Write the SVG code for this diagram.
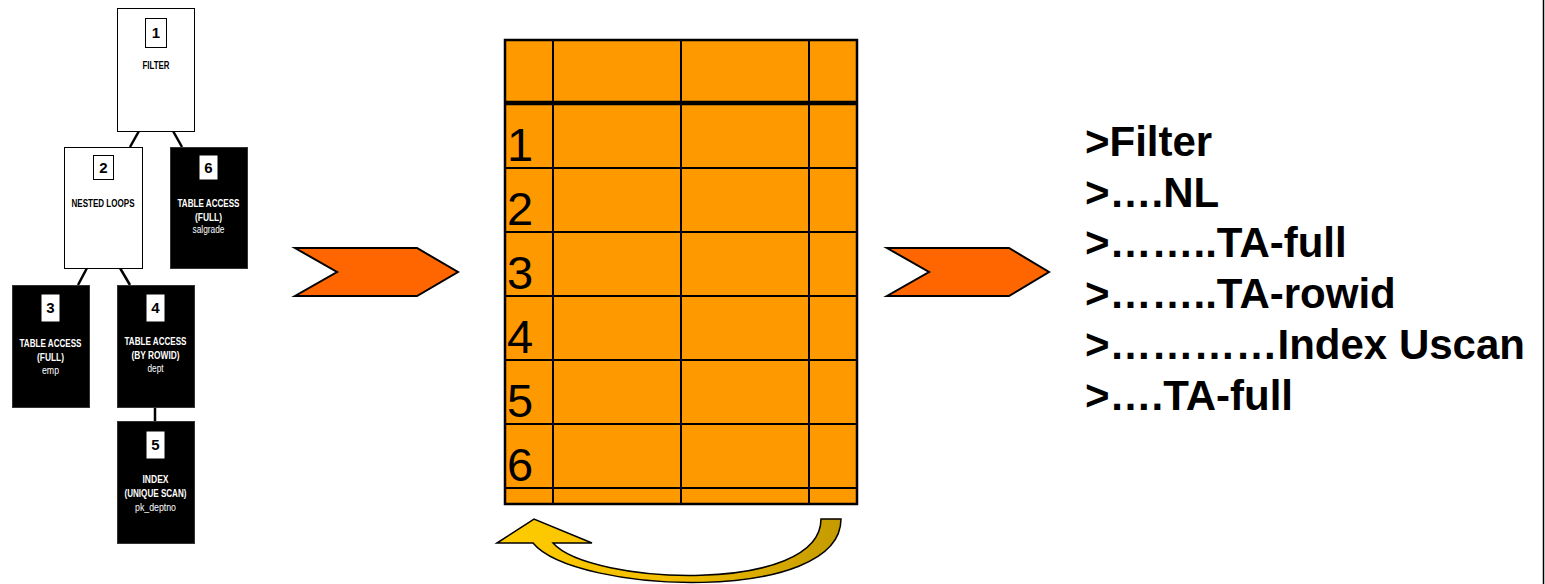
<svg xmlns="http://www.w3.org/2000/svg" width="1545" height="584" viewBox="0 0 1545 584">
<style>
.wn{fill:#fff;stroke:#000;stroke-width:1}
.bn{fill:#000;stroke:#333;stroke-width:1}
.nb{fill:#fff;stroke:#000;stroke-width:1}
.t{font-family:"Liberation Sans",Arial,sans-serif;font-weight:bold;font-size:10px;text-anchor:middle}
.d{font-family:"Liberation Sans",Arial,sans-serif;font-weight:bold;font-size:15px;text-anchor:middle;fill:#000}
.w{fill:#fff}
.k{fill:#000}
.edge{stroke:#000;stroke-width:2.5;fill:none}
.chev{fill:#FF6600;stroke:#000;stroke-width:2}
.grid{stroke:#000;stroke-width:2;fill:none}
.rn{font-family:"Liberation Sans",Arial,sans-serif;font-size:47px;fill:#000}
.pl{font-family:"Liberation Sans",Arial,sans-serif;font-weight:bold;font-size:42px;fill:#000}
</style>
<defs>
<linearGradient id="gold" x1="0" y1="0" x2="1" y2="0">
<stop offset="0" stop-color="#FFCC00"/>
<stop offset="0.5" stop-color="#F2BE00"/>
<stop offset="1" stop-color="#C49A00"/>
</linearGradient>
</defs>
<rect width="1545" height="584" fill="#fff"/>
<line x1="1543.5" y1="0" x2="1543.5" y2="584" stroke="#000" stroke-width="1.5"/>

<g id="connectors">
<line class="edge" x1="139" y1="131" x2="130" y2="147"/>
<line class="edge" x1="173" y1="131" x2="182" y2="147"/>
<line class="edge" x1="87" y1="268" x2="78" y2="285"/>
<line class="edge" x1="120" y1="268" x2="130" y2="285"/>
<line class="edge" x1="155" y1="407" x2="155" y2="421"/>
</g>

<g id="node1">
<rect class="wn" x="117.5" y="8.5" width="77" height="123"/>
<rect class="nb" x="145.5" y="18.5" width="21" height="29"/>
<text class="d" x="156" y="38">1</text>
<text class="t k" x="156" y="69" textLength="27" lengthAdjust="spacingAndGlyphs">FILTER</text>
</g>
<g id="node2">
<rect class="wn" x="64.5" y="147.5" width="78" height="121"/>
<rect class="nb" x="93.5" y="155.5" width="20" height="24"/>
<text class="d" x="103.5" y="173">2</text>
<text class="t k" x="103" y="207" textLength="63" lengthAdjust="spacingAndGlyphs">NESTED LOOPS</text>
</g>
<g id="node6">
<rect class="bn" x="170.5" y="147.5" width="77" height="121"/>
<rect class="nb" x="199" y="155" width="19" height="25"/>
<text class="d" x="208.5" y="173">6</text>
<text class="t w" x="208.5" y="207" textLength="62" lengthAdjust="spacingAndGlyphs">TABLE ACCESS</text>
<text class="t w" x="208.5" y="221" textLength="27" lengthAdjust="spacingAndGlyphs">(FULL)</text>
<text class="t w" x="208.5" y="233" textLength="32" lengthAdjust="spacingAndGlyphs" style="font-weight:normal">salgrade</text>
</g>
<g id="node3">
<rect class="bn" x="12.5" y="285.5" width="77" height="122"/>
<rect class="nb" x="41" y="294" width="19" height="28"/>
<text class="d" x="50.5" y="313">3</text>
<text class="t w" x="50.5" y="347" textLength="62" lengthAdjust="spacingAndGlyphs">TABLE ACCESS</text>
<text class="t w" x="50.5" y="361" textLength="27" lengthAdjust="spacingAndGlyphs">(FULL)</text>
<text class="t w" x="50.5" y="374" textLength="17" lengthAdjust="spacingAndGlyphs" style="font-weight:normal">emp</text>
</g>
<g id="node4">
<rect class="bn" x="117.5" y="285.5" width="77" height="122"/>
<rect class="nb" x="146" y="294" width="19" height="28"/>
<text class="d" x="155.5" y="313">4</text>
<text class="t w" x="155.5" y="345" textLength="62" lengthAdjust="spacingAndGlyphs">TABLE ACCESS</text>
<text class="t w" x="155.5" y="359" textLength="48" lengthAdjust="spacingAndGlyphs">(BY ROWID)</text>
<text class="t w" x="155.5" y="372" textLength="16" lengthAdjust="spacingAndGlyphs" style="font-weight:normal">dept</text>
</g>
<g id="node5">
<rect class="bn" x="117.5" y="421.5" width="77" height="122"/>
<rect class="nb" x="146" y="431" width="19" height="28"/>
<text class="d" x="155.5" y="450">5</text>
<text class="t w" x="155.5" y="483" textLength="26" lengthAdjust="spacingAndGlyphs">INDEX</text>
<text class="t w" x="155.5" y="497" textLength="62" lengthAdjust="spacingAndGlyphs">(UNIQUE SCAN)</text>
<text class="t w" x="155.5" y="511" textLength="41" lengthAdjust="spacingAndGlyphs" style="font-weight:normal">pk_deptno</text>
</g>

<g id="arrow1">
<polygon class="chev" points="295,248 417,248 458,272 417,296 295,296 337,272"/>
</g>
<g id="arrow2">
<polygon class="chev" points="887,248 1009,248 1049,272 1009,296 887,296 929,272"/>
</g>

<g id="table">
<rect x="505" y="40" width="352" height="464" fill="#FF9900" stroke="#000" stroke-width="2.5"/>
<line class="grid" x1="553" y1="40" x2="553" y2="504"/>
<line class="grid" x1="681" y1="40" x2="681" y2="504"/>
<line class="grid" x1="809" y1="40" x2="809" y2="504"/>
<line x1="505" y1="103" x2="857" y2="103" stroke="#000" stroke-width="4.5"/>
<line class="grid" x1="505" y1="168" x2="857" y2="168"/>
<line class="grid" x1="505" y1="232" x2="857" y2="232"/>
<line class="grid" x1="505" y1="296" x2="857" y2="296"/>
<line class="grid" x1="505" y1="360" x2="857" y2="360"/>
<line class="grid" x1="505" y1="424" x2="857" y2="424"/>
<line class="grid" x1="505" y1="488" x2="857" y2="488"/>
<text class="rn" x="507" y="161">1</text>
<text class="rn" x="507" y="225">2</text>
<text class="rn" x="507" y="289">3</text>
<text class="rn" x="507" y="353">4</text>
<text class="rn" x="507" y="417">5</text>
<text class="rn" x="507" y="481">6</text>
</g>

<g id="loop-arrow">
<path d="M497,543 L534,519 L592,543 L553,543 C590,585 821,595 821,519 L841,519 C841,605 575,594 533,543 Z" fill="url(#gold)" stroke="#000" stroke-width="1.5" stroke-linejoin="miter"/>
</g>

<g id="plan-text">
<text class="pl" x="1085" y="156">&gt;Filter</text>
<text class="pl" x="1085" y="207">&gt;….NL</text>
<text class="pl" x="1085" y="257">&gt;……..TA-full</text>
<text class="pl" x="1085" y="308">&gt;……..TA-rowid</text>
<text class="pl" x="1085" y="359">&gt;…………Index Uscan</text>
<text class="pl" x="1085" y="410">&gt;….TA-full</text>
</g>
</svg>
